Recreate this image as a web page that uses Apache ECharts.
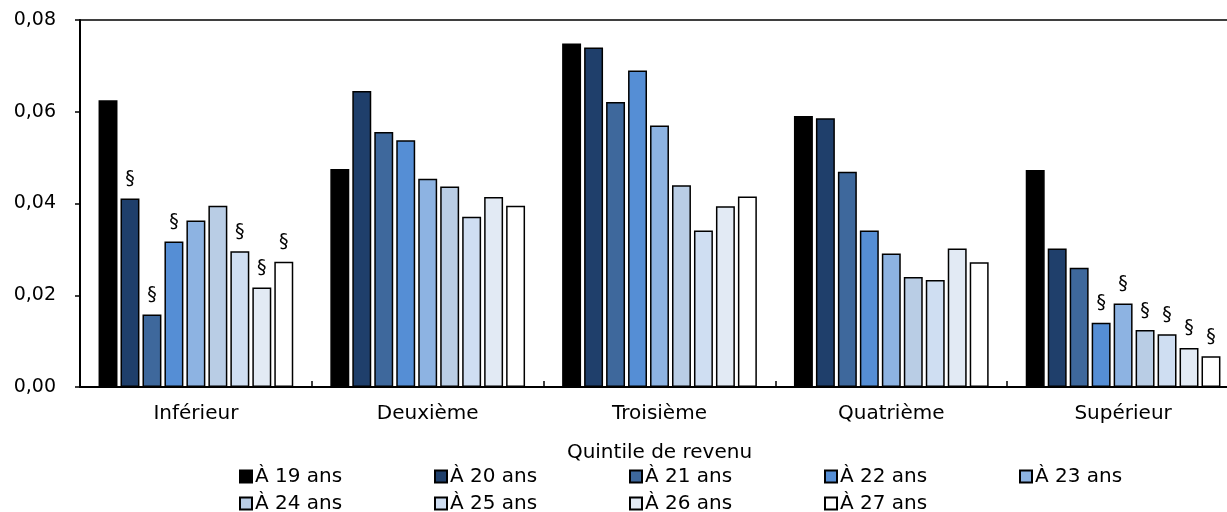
<!DOCTYPE html>
<html>
<head>
<meta charset="utf-8">
<script src="https://cdn.jsdelivr.net/npm/echarts@6/dist/echarts.min.js"></script>
<style>
  html, body { margin: 0; padding: 0; background: #ffffff; }
  #chart { width: 1227px; height: 512px; }
</style>
</head>
<body>
<div id="chart"></div>
<script>
// Income quintiles on the category axis
const quintiles = ['Inférieur', 'Deuxième', 'Troisième', 'Quatrième', 'Supérieur'];

// One series per age, values per quintile
const ages = ['À 19 ans', 'À 20 ans', 'À 21 ans', 'À 22 ans', 'À 23 ans',
              'À 24 ans', 'À 25 ans', 'À 26 ans', 'À 27 ans'];

const age19 = [0.0625, 0.0475, 0.0749, 0.0591, 0.0473];
const age20 = [0.0411, 0.0645, 0.0740, 0.0586, 0.0302];
const age21 = [0.0158, 0.0556, 0.0621, 0.0469, 0.0260];
const age22 = [0.0317, 0.0538, 0.0690, 0.0341, 0.0140];
const age23 = [0.0363, 0.0454, 0.0570, 0.0291, 0.0182];
const age24 = [0.0395, 0.0437, 0.0440, 0.0240, 0.0124];
const age25 = [0.0296, 0.0371, 0.0341, 0.0233, 0.0115];
const age26 = [0.0217, 0.0414, 0.0394, 0.0302, 0.0085];
const age27 = [0.0273, 0.0395, 0.0415, 0.0272, 0.0067];

// Estimates to use with caution, marked with "§" (1 = flagged)
const flag19 = [0, 0, 0, 0, 0];
const flag20 = [1, 0, 0, 0, 0];
const flag21 = [1, 0, 0, 0, 0];
const flag22 = [1, 0, 0, 0, 1];
const flag23 = [0, 0, 0, 0, 1];
const flag24 = [0, 0, 0, 0, 1];
const flag25 = [1, 0, 0, 0, 1];
const flag26 = [1, 0, 0, 0, 1];
const flag27 = [1, 0, 0, 0, 1];

const yTicks = [0, 0.02, 0.04, 0.06, 0.08];

const values = [age19, age20, age21, age22, age23, age24, age25, age26, age27];
const flags = [flag19, flag20, flag21, flag22, flag23, flag24, flag25, flag26, flag27];
const colors = ['#000000', '#1f3f6b', '#3e689c', '#558ed5', '#8db3e2',
                '#b9cde5', '#cfdef2', '#e2eaf4', '#ffffff'];

const FONT = 'Verdana, "DejaVu Sans", sans-serif';

const series = ages.map((name, i) => ({
  name: name,
  type: 'bar',
  data: values[i],
  barGap: '16%',
  barCategoryGap: '16%',
  itemStyle: { color: colors[i], borderColor: '#000000', borderWidth: 1.5 },
  label: {
    show: true,
    position: 'top',
    distance: 10,
    fontFamily: FONT,
    fontSize: 19,
    color: '#000000',
    formatter: p => (flags[i][p.dataIndex] ? '§' : '')
  },
  emphasis: { disabled: true }
}));

const chart = echarts.init(document.getElementById('chart'), null, { renderer: 'canvas' });
chart.setOption({
  animation: false,
  backgroundColor: '#ffffff',
  textStyle: { fontFamily: FONT },
  // the plot runs a little past the right edge of the canvas
  grid: { left: 80, right: -12, top: 20, bottom: 125, containLabel: false, outerBoundsMode: 'none' },
  xAxis: [
    {
      type: 'category',
      data: quintiles,
      position: 'bottom',
      name: 'Quintile de revenu',
      nameLocation: 'middle',
      nameGap: 56,
      nameTextStyle: { fontFamily: FONT, fontSize: 20, color: '#000000' },
      axisLine: { lineStyle: { color: '#000000', width: 2 } },
      axisTick: { show: true, inside: true, length: 6, lineStyle: { color: '#000000', width: 1.5 } },
      axisLabel: { fontFamily: FONT, fontSize: 20, color: '#000000', margin: 17 },
      splitLine: { show: false }
    },
    {
      type: 'category',
      data: quintiles,
      position: 'top',
      axisLine: { lineStyle: { color: '#000000', width: 1.5 } },
      axisTick: { show: false },
      axisLabel: { show: false },
      splitLine: { show: false }
    }
  ],
  yAxis: {
    type: 'value',
    min: yTicks[0],
    max: yTicks[yTicks.length - 1],
    interval: yTicks[1] - yTicks[0],
    axisLine: { show: true, lineStyle: { color: '#000000', width: 2 } },
    axisTick: { show: true, length: 5, lineStyle: { color: '#000000', width: 1.5 } },
    axisLabel: {
      fontFamily: FONT, fontSize: 19, color: '#000000', margin: 24,
      formatter: v => v.toFixed(2).replace('.', ',')
    },
    splitLine: { show: false }
  },
  legend: {
    data: ages,
    left: 239,
    top: 463,
    width: 990,
    padding: 0,
    itemGap: 0,
    itemWidth: 12,
    itemHeight: 12,
    icon: 'rect',
    selectedMode: false,
    textStyle: { fontFamily: FONT, fontSize: 20, color: '#000000', width: 179, lineHeight: 27, padding: [0, 0, 0, -2] }
  },
  series: series
});
</script>
</body>
</html>
